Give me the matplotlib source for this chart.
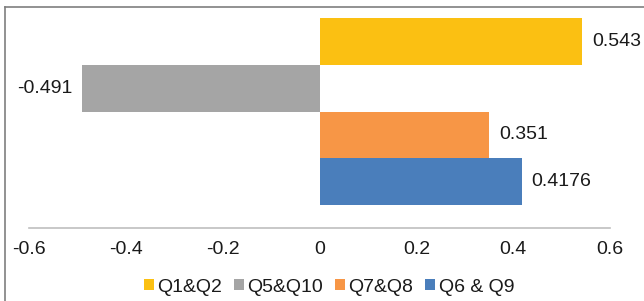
import matplotlib.pyplot as plt
from matplotlib.lines import Line2D

series = ['Q1&Q2', 'Q5&Q10', 'Q7&Q8', 'Q6 & Q9']
values = [0.543, -0.491, 0.351, 0.4176]
colors = ['#FBC012', '#A5A5A5', '#F79646', '#4A7EBB']
xticks = [-0.6, -0.4, -0.2, 0, 0.2, 0.4, 0.6]

plt.rcParams['font.family'] = ['Liberation Sans', 'DejaVu Sans']
fs = 14

fig = plt.figure(figsize=(6.44, 3.01), dpi=100)
ax = fig.add_axes([29/644, (301-228)/301, 581/644, 218/301])

for i, (name, val, col) in enumerate(zip(series, values, colors)):
    bars = ax.barh(i, val, height=1.0, color=col, label=name)
    ax.bar_label(bars, labels=['%g' % val], padding=7, fontsize=fs, color='#1a1a1a')

ax.set_xlim(-0.6, 0.6)
ax.set_ylim(3.5 + 23/46.75, -0.5 - 8/46.75)
ax.set_xticks(xticks)
ax.set_xticklabels(['%g' % t for t in xticks])
ax.set_yticks([])
ax.tick_params(axis='x', length=0, pad=9, labelsize=fs, colors='#1a1a1a')
for s in ['top', 'right', 'left']:
    ax.spines[s].set_visible(False)
ax.spines['bottom'].set_color('#BFBFBF')
ax.spines['bottom'].set_linewidth(1.2)

# chart border (only top and left edges fall inside the picture)
fig.add_artist(Line2D([5/644, 1], [1 - 7/301, 1 - 7/301], color='#7F7F7F', lw=1.2))
fig.add_artist(Line2D([5/644, 5/644], [0, 1 - 7/301], color='#7F7F7F', lw=1.2))

ax.legend(loc='center', bbox_to_anchor=(329/644, 1 - 287/301), bbox_transform=fig.transFigure,
          ncol=4, frameon=False, fontsize=fs, handlelength=0.5, handleheight=0.5,
          handletextpad=0.2, columnspacing=0.6, labelcolor='#1a1a1a')

fig.savefig('out.png', dpi=100)
